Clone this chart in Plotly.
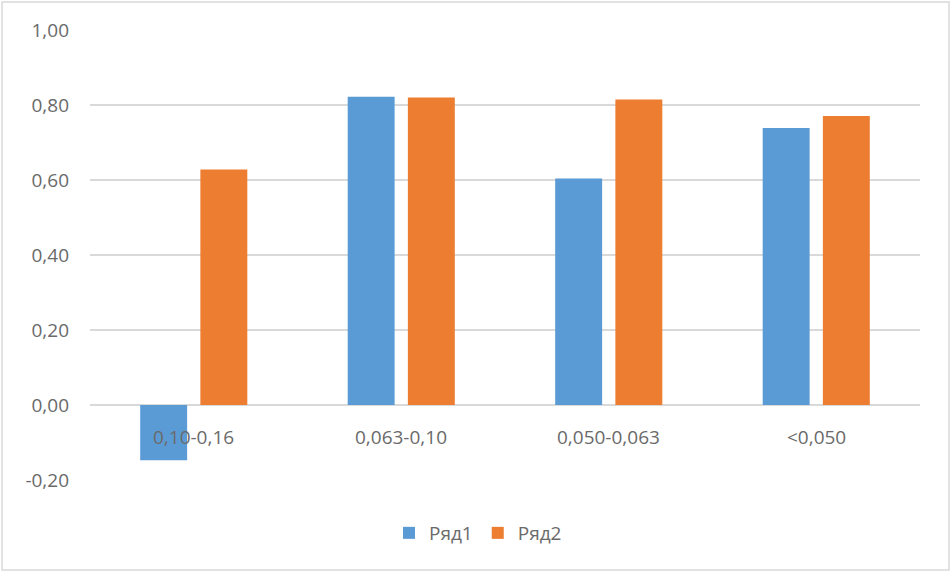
import plotly.graph_objects as go

categories = ["0,10-0,16", "0,063-0,10", "0,050-0,063", "<0,050"]
series1_name = "Ряд1"
series2_name = "Ряд2"
series1 = [-0.147, 0.822, 0.604, 0.739]
series2 = [0.628, 0.820, 0.815, 0.771]
y_ticks = [-0.2, 0.0, 0.2, 0.4, 0.6, 0.8, 1.0]
y_tick_labels = ["-0,20", "0,00", "0,20", "0,40", "0,60", "0,80", "1,00"]

W, H = 951, 572
ml, mr, mt, mb = 90, 31, 30, 92
font_family = "Open Sans, Noto Sans, sans-serif"
text_color = "#6a6a6a"
fs = 19

fig = go.Figure()
fig.add_trace(go.Bar(x=categories, y=series1, name=series1_name,
                     marker=dict(color="#5b9bd5", line=dict(width=0))))
fig.add_trace(go.Bar(x=categories, y=series2, name=series2_name,
                     marker=dict(color="#ed7d31", line=dict(width=0))))

# category labels just below the zero line (Excel style)
for c in categories:
    fig.add_annotation(x=c, y=0, xref="x", yref="y", text=c, showarrow=False,
                       yanchor="middle", yshift=-32,
                       font=dict(size=fs, color=text_color, family=font_family))

pw = W - ml - mr
ph = H - mt - mb
fig.add_shape(type="rect", xref="paper", yref="paper",
              x0=(2 - ml) / pw, x1=(W - 2 - ml) / pw,
              y0=-(mb - 2) / ph, y1=1 + (mt - 2) / ph,
              line=dict(color="#d9d9d9", width=1.5), layer="below")

fig.update_layout(
    width=W, height=H,
    margin=dict(l=ml, r=mr, t=mt, b=mb),
    paper_bgcolor="white", plot_bgcolor="white",
    barmode="group", bargap=0.42, bargroupgap=0.22,
    font=dict(family=font_family, size=fs, color=text_color),
    showlegend=True,
    legend=dict(orientation="h", x=(478 - ml) / pw, xanchor="center",
                y=(H - mb - 533) / ph, yanchor="middle",
                font=dict(size=fs, color=text_color),
                itemwidth=30, tracegroupgap=0),
    xaxis=dict(showticklabels=False, showgrid=False, zeroline=False,
               showline=False, ticks=""),
    yaxis=dict(range=[-0.2, 1.0], tickvals=y_ticks, ticktext=y_tick_labels,
               showgrid=True, gridcolor="#d9d9d9", gridwidth=1.5,
               zeroline=True, zerolinecolor="#d9d9d9", zerolinewidth=1.5,
               showline=False, ticks="", ticklabelstandoff=20,
               tickfont=dict(size=fs, color=text_color)),
)

fig.write_html("out.html", config={"displayModeBar": False},
               post_script="document.body.style.margin='0';document.body.style.overflow='hidden';")
